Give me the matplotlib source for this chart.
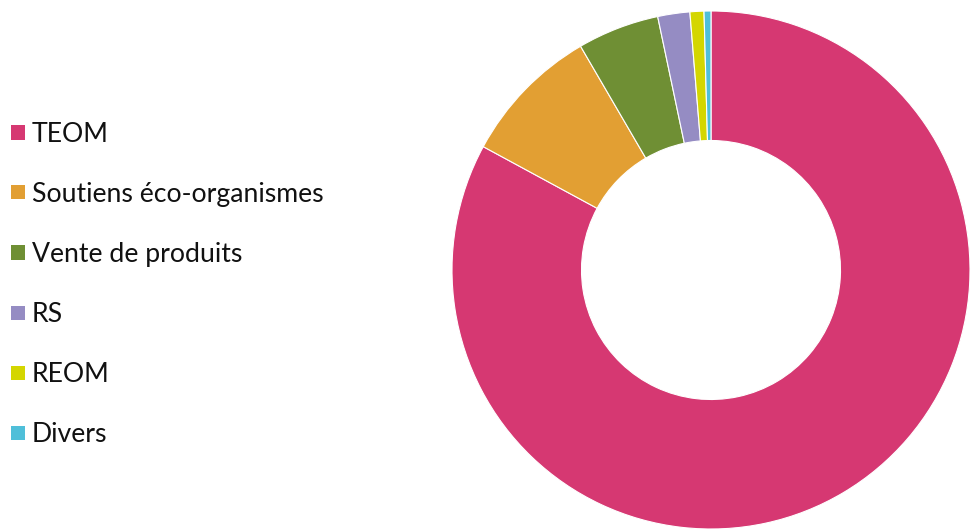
import matplotlib
matplotlib.use("Agg")
import matplotlib.pyplot as plt
from matplotlib.patches import Rectangle

categories = ["TEOM", "Soutiens éco-organismes", "Vente de produits", "RS", "REOM", "Divers"]
values = [82.9, 8.7, 5.1, 2.0, 0.87, 0.43]
colors = ["#D63872", "#E29F33", "#6F8F34", "#958CC3", "#D4D600", "#4FBFD9"]

W, H = 971, 529
plt.rcParams['font.family'] = ['Lato', 'DejaVu Sans']
fig = plt.figure(figsize=(W / 100, H / 100), dpi=100)

cx, cy, r = 711, 270, 259
ax = fig.add_axes([(cx - r) / W, (H - cy - r) / H, 2 * r / W, 2 * r / H])
ax.pie(values, colors=colors, startangle=90, counterclock=False, radius=1,
       wedgeprops=dict(width=0.5, edgecolor="white", linewidth=0.8))
ax.set_xlim(-1, 1)
ax.set_ylim(-1, 1)
ax.set_aspect("equal")
ax.axis("off")

# legend drawn manually in pixel coordinates
base0, step = 142.3, 60.0
for i, (lab, col) in enumerate(zip(categories, colors)):
    base = base0 + step * i
    sq_c = base - 9.8
    fig.patches.append(Rectangle((11 / W, 1 - (sq_c + 7) / H), 14 / W, 14 / H,
                                 transform=fig.transFigure, facecolor=col,
                                 edgecolor="none"))
    fig.text(32 / W, 1 - base / H, lab, fontsize=19.2, color="#111111",
             ha="left", va="baseline")

fig.savefig("out.png", dpi=100)
